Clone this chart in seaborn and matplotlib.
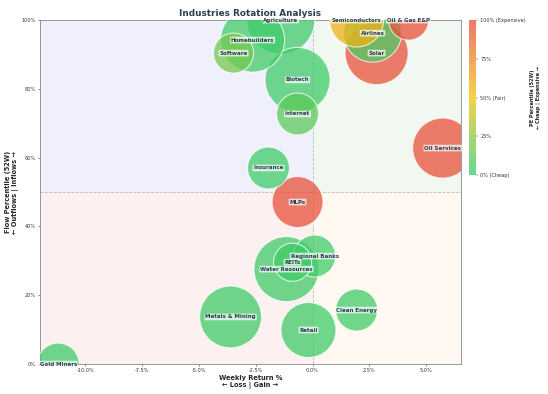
import numpy as np
import pandas as pd
import matplotlib
matplotlib.use("Agg")
import matplotlib.pyplot as plt
import seaborn as sns
from matplotlib.colors import LinearSegmentedColormap, Normalize
from matplotlib.cm import ScalarMappable
from matplotlib.ticker import FuncFormatter

industries = ["Agriculture", "Homebuilders", "Software", "Biotech", "Internet",
              "Insurance", "Semiconductors", "Oil & Gas E&P", "Airlines", "Solar",
              "Oil Services", "MLPs", "Regional Banks", "REITs", "Water Resources",
              "Clean Energy", "Retail", "Metals & Mining", "Gold Miners"]
weekly_return = [-1.4, -2.64, -3.48, -0.66, -0.66,
                 -1.94, 1.94, 4.23, 2.64, 2.82,
                 5.73, -0.66, 0.09, -0.88, -1.15,
                 1.94, -0.18, -3.61, -11.2]
flow_pct = [100, 94.2, 90.4, 82.6, 72.7,
            57.0, 100, 100, 96.2, 90.4,
            62.8, 47.1, 31.4, 29.6, 27.6,
            15.7, 9.9, 13.7, 0.0]
pe_pct = [5, 5, 18, 5, 12,
          5, 58, 98, 8, 98,
          98, 98, 5, 5, 5,
          5, 5, 5, 5]
bubble_size = [15000, 13300, 5200, 13700, 5700,
               5700, 9400, 5200, 10900, 12900,
               11700, 8400, 5700, 4700, 13700,
               5700, 9800, 12400, 5700]

df = pd.DataFrame({"industry": industries, "ret": weekly_return, "flow": flow_pct,
                   "pe": pe_pct, "size": bubble_size})
df = df.sort_values("size", ascending=False)

cmap = LinearSegmentedColormap.from_list("pe", ["#2ecc71", "#f1c40f", "#e74c3c"])
norm = Normalize(0, 100)

sns.set_style("white")
fig = plt.figure(figsize=(13.7, 9.85), dpi=40)
ax = fig.add_axes([0.073, 0.076, 0.768, 0.873])

pad = 0.8
xlo, xhi = min(weekly_return) - pad, max(weekly_return) + pad
ax.set_xlim(xlo, xhi)
ax.set_ylim(0, 100)

ax.axvspan(xlo, 0, ymin=0.5, ymax=1, color="#f0f0fc", zorder=0, lw=0)
ax.axvspan(0, xhi, ymin=0.5, ymax=1, color="#f0f8f1", zorder=0, lw=0)
ax.axvspan(xlo, 0, ymin=0, ymax=0.5, color="#fdf0f0", zorder=0, lw=0)
ax.axvspan(0, xhi, ymin=0, ymax=0.5, color="#fff9f1", zorder=0, lw=0)
ax.axhline(50, color="gray", ls="--", lw=1.5, alpha=0.5, zorder=1)
ax.axvline(0, color="gray", ls="--", lw=1.5, alpha=0.5, zorder=1)

sns.scatterplot(data=df, x="ret", y="flow", hue="pe", palette=cmap, hue_norm=norm,
                size="size", sizes=(min(bubble_size), max(bubble_size)),
                size_norm=(min(bubble_size), max(bubble_size)),
                alpha=0.75, edgecolor="white", linewidth=2, legend=False, ax=ax, zorder=3)

for _, r in df.iterrows():
    ax.text(r["ret"], r["flow"], r["industry"], ha="center", va="center",
            fontsize=10, fontweight="bold", color="#2c3e50", zorder=5,
            bbox=dict(boxstyle="round,pad=0.15", fc="white", ec="none", alpha=0.7))

ax.set_title("Industries Rotation Analysis", fontsize=16, fontweight="bold",
             color="#2c3e50", pad=8)
ax.set_xlabel("Weekly Return %\n← Loss | Gain →", fontsize=12, fontweight="bold")
ax.set_ylabel("Flow Percentile (52W)\n← Outflows | Inflows →", fontsize=12, fontweight="bold")
ax.xaxis.set_major_formatter(FuncFormatter(lambda v, p: f"{v:.1f}%"))
ax.yaxis.set_major_formatter(FuncFormatter(lambda v, p: f"{v:.0f}%"))
ax.tick_params(labelsize=9, length=4, width=1, colors="#333333", left=True, bottom=True)
for s in ax.spines.values():
    s.set_color("#888888")
    s.set_linewidth(1.5)

cax = fig.add_axes([0.856, 0.556, 0.0128, 0.393])
sm = ScalarMappable(norm=norm, cmap=cmap)
cb = fig.colorbar(sm, cax=cax, alpha=0.75)
cb.set_ticks([0, 25, 50, 75, 100])
cb.set_ticklabels(["0% (Cheap)", "25%", "50% (Fair)", "75%", "100% (Expensive)"])
cb.ax.tick_params(labelsize=9, length=4, colors="#333333")
cb.outline.set_visible(False)
cb.set_label("PE Percentile (52W)\n← Cheap | Expensive →", fontsize=9, fontweight="bold", labelpad=8)

fig.savefig("out.png", dpi=40)
